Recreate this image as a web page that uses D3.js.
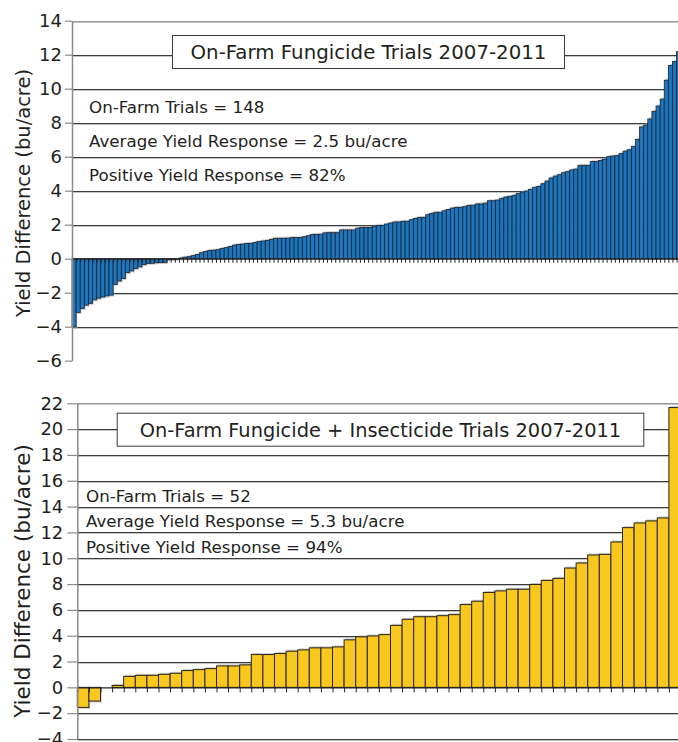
<!DOCTYPE html>
<html>
<head>
<meta charset="utf-8">
<script src="https://cdn.jsdelivr.net/npm/d3@7"></script>
<style>
  html, body { margin: 0; padding: 0; background: #fff; }
  svg { display: block; }
  text { font-family: "DejaVu Sans", Verdana, sans-serif; fill: #231f20; }
</style>
</head>
<body>
<svg id="chart" width="678" height="742"></svg>
<script>
// ---------- DATA ----------
const fungicideValues = [
  -4.0, -3.16, -2.92, -2.73, -2.63, -2.42, -2.32, -2.25, -2.19, -2.14,
  -1.51, -1.31, -1.16, -0.82, -0.72, -0.58, -0.48, -0.35, -0.28, -0.27,
  -0.24, -0.23, -0.22, -0.06, -0.04, -0.02, 0.04, 0.09, 0.12, 0.18,
  0.24, 0.35, 0.42, 0.48, 0.5, 0.53, 0.6, 0.65, 0.72, 0.8,
  0.84, 0.86, 0.9, 0.9, 0.95, 1.01, 1.04, 1.08, 1.14, 1.2,
  1.2, 1.2, 1.21, 1.24, 1.24, 1.25, 1.29, 1.35, 1.42, 1.43,
  1.44, 1.52, 1.53, 1.53, 1.53, 1.69, 1.69, 1.69, 1.69, 1.8,
  1.84, 1.84, 1.84, 1.92, 1.96, 1.96, 2.04, 2.1, 2.16, 2.16,
  2.2, 2.2, 2.29, 2.37, 2.43, 2.43, 2.59, 2.67, 2.73, 2.73,
  2.82, 2.9, 2.98, 3.02, 3.02, 3.06, 3.14, 3.14, 3.22, 3.22,
  3.27, 3.41, 3.41, 3.45, 3.55, 3.63, 3.67, 3.73, 3.84, 3.92,
  3.98, 4.08, 4.2, 4.25, 4.41, 4.57, 4.75, 4.86, 4.94, 5.06,
  5.12, 5.22, 5.27, 5.49, 5.49, 5.49, 5.71, 5.71, 5.78, 5.86,
  6.0, 6.04, 6.06, 6.18, 6.33, 6.41, 6.6, 7.02, 7.75, 7.86,
  8.22, 8.67, 8.98, 9.39, 10.5, 11.37, 11.6, 12.18
];
const comboValues = [
  -1.55, -1.06, 0.0, 0.15, 0.85, 0.93, 0.93, 1.01, 1.09, 1.3,
  1.37, 1.45, 1.66, 1.66, 1.74, 2.54, 2.54, 2.62, 2.8, 2.9,
  3.06, 3.06, 3.13, 3.68, 3.91, 3.98, 4.08, 4.8, 5.27, 5.47,
  5.47, 5.55, 5.63, 6.41, 6.67, 7.35, 7.47, 7.6, 7.6, 7.97,
  8.28, 8.44, 9.24, 9.63, 10.25, 10.3, 11.26, 12.37, 12.73, 12.89,
  13.12, 21.67
];
const fungicideTicks = [-6, -4, -2, 0, 2, 4, 6, 8, 10, 12, 14];
const comboTicks = [-4, -2, 0, 2, 4, 6, 8, 10, 12, 14, 16, 18, 20, 22];
const fungicideTitle = "On-Farm Fungicide Trials 2007-2011";
const comboTitle = "On-Farm Fungicide + Insecticide Trials 2007-2011";
const fungicideStats = ["On-Farm Trials = 148", "Average Yield Response = 2.5 bu/acre", "Positive Yield Response = 82%"];
const comboStats = ["On-Farm Trials = 52", "Average Yield Response = 5.3 bu/acre", "Positive Yield Response = 94%"];
const yAxisTitle = "Yield Difference (bu/acre)";

// ---------- DRAW ----------
const svg = d3.select("#chart");

function drawChart(cfg) {
  const g = svg.append("g");
  const n = cfg.values.length;
  const xBand = d3.scaleBand().domain(d3.range(n)).range([cfg.x0, cfg.x1]).paddingInner(0).paddingOuter(0);
  const xLin = d3.scaleLinear().domain([0, n]).range([cfg.x0, cfg.x1]);
  const y = d3.scaleLinear().domain([cfg.ticks[0], cfg.ticks[cfg.ticks.length - 1]]).range([cfg.yBottom, cfg.yTop]);

  // gridlines
  const gridTicks = cfg.ticks.filter(t => t !== 0 && cfg.gridSkip.indexOf(t) < 0);
  g.append("g").selectAll("line.shadow").data(gridTicks).join("line")
    .attr("x1", cfg.x0).attr("x2", 680)
    .attr("y1", d => Math.round(y(d)) + 1.5).attr("y2", d => Math.round(y(d)) + 1.5)
    .attr("stroke", "#c4c4c4").attr("stroke-width", 1);
  g.append("g").selectAll("line.grid").data(gridTicks).join("line")
    .attr("x1", cfg.x0).attr("x2", 680)
    .attr("y1", d => Math.round(y(d)) + 0.5).attr("y2", d => Math.round(y(d)) + 0.5)
    .attr("stroke", d => d === cfg.ticks[cfg.ticks.length - 1] ? "#9a9a9a" : "#3c3c3c")
    .attr("stroke-width", 1);

  // bar shadows
  g.append("g").selectAll("rect").data(cfg.values).join("rect")
    .attr("x", (d, i) => xBand(i) + 1.2)
    .attr("width", xBand.bandwidth())
    .attr("y", d => d >= 0 ? y(d) - 1.5 : y(0))
    .attr("height", d => Math.abs(y(d) - y(0)) + (d === 0 ? 0 : 1.5))
    .attr("fill", "#a8a8a8").attr("opacity", 0.6);

  // bars
  g.append("g").selectAll("rect").data(cfg.values).join("rect")
    .attr("x", (d, i) => xBand(i))
    .attr("width", xBand.bandwidth())
    .attr("y", d => y(Math.max(0, d)))
    .attr("height", d => Math.abs(y(d) - y(0)))
    .attr("fill", cfg.fill)
    .attr("stroke", cfg.stroke)
    .attr("stroke-width", cfg.strokeWidth);

  // x axis at zero with boundary ticks
  const xAxis = g.append("g")
    .attr("transform", `translate(0,${y(0)})`)
    .call(d3.axisBottom(xLin).tickValues(d3.range(0, n + 1)).tickFormat("").tickSize(cfg.xTickSize).tickSizeOuter(0));
  xAxis.select(".domain").attr("stroke", "#222").attr("stroke-width", 1.2);
  xAxis.selectAll(".tick line").attr("stroke", "#222").attr("stroke-width", 1);

  // y axis
  const yAxis = g.append("g")
    .attr("transform", `translate(${cfg.x0},0)`)
    .call(d3.axisLeft(y).tickValues(cfg.ticks).tickSize(cfg.yTickSize).tickPadding(cfg.yTickPad).tickSizeOuter(0));
  yAxis.select(".domain").attr("stroke", "#8a8a8a").attr("stroke-width", 1.5);
  yAxis.selectAll(".tick line").attr("stroke", "#8a8a8a").attr("stroke-width", 1.2);
  yAxis.selectAll(".tick text").style("font-size", "18px").style("font-family", '"DejaVu Sans", Verdana, sans-serif').attr("fill", "#231f20");

  // axis title
  g.append("text")
    .attr("transform", `translate(${cfg.titleX},${cfg.titleY}) rotate(-90)`)
    .attr("text-anchor", "middle")
    .style("font-size", cfg.axisTitleSize + "px")
    .text(yAxisTitle);

  // title box
  g.append("rect")
    .attr("x", cfg.box[0] + 0.5).attr("y", cfg.box[1] + 0.5)
    .attr("width", cfg.box[2] - cfg.box[0]).attr("height", cfg.box[3] - cfg.box[1])
    .attr("fill", "#fff").attr("stroke", "#3a3a3a").attr("stroke-width", 1);
  g.append("text")
    .attr("x", (cfg.box[0] + cfg.box[2]) / 2 + 0.5)
    .attr("y", (cfg.box[1] + cfg.box[3]) / 2 + 0.5)
    .attr("dy", "0.36em")
    .attr("text-anchor", "middle")
    .style("font-size", cfg.titleSize + "px")
    .text(cfg.title);

  // stats
  g.append("g").selectAll("text").data(cfg.stats).join("text")
    .attr("x", cfg.statsX)
    .attr("y", (d, i) => cfg.statsY[i])
    .style("font-size", "16.7px")
    .text(d => d);
}

drawChart({
  values: fungicideValues, ticks: fungicideTicks, gridSkip: [-6],
  x0: 72, x1: 680.7, yTop: 20.7, yBottom: 360.7,
  fill: "#1b76c0", stroke: "#1c2330", strokeWidth: 0.8,
  xTickSize: 4, yTickSize: 7, yTickPad: 3,
  titleX: 30, titleY: 193, axisTitleSize: 19.5,
  box: [172, 35, 564, 68], title: fungicideTitle, titleSize: 19.8,
  stats: fungicideStats, statsX: 89, statsY: [113, 146.5, 180.5]
});

drawChart({
  values: comboValues, ticks: comboTicks, gridSkip: [],
  x0: 77.3, x1: 680.5, yTop: 403.3, yBottom: 739,
  fill: "#f8c81f", stroke: "#2a2418", strokeWidth: 1,
  xTickSize: 5, yTickSize: 10, yTickPad: 4,
  titleX: 30, titleY: 581, axisTitleSize: 21.5,
  box: [116.7, 412.7, 643.3, 445.7], title: comboTitle, titleSize: 19.4,
  stats: comboStats, statsX: 86, statsY: [501.5, 527, 552.5]
});
</script>
</body>
</html>
